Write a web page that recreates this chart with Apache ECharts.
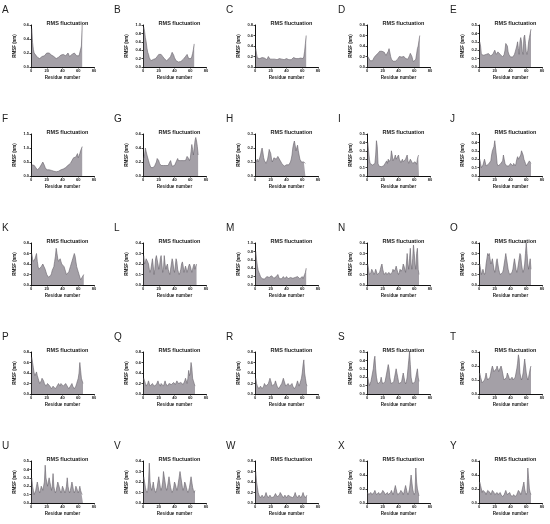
<!DOCTYPE html>
<html><head><meta charset="utf-8">
<script src="https://cdn.jsdelivr.net/npm/echarts@6/dist/echarts.min.js"></script>
<style>html,body{margin:0;padding:0;background:#fff}#c{width:550px;height:524px}</style>
</head><body><div id="c"></div>
<script>
const panelLetters = ["A","B","C","D","E","F","G","H","I","J","K","L","M","N","O","P","Q","R","S","T","U","V","W","X","Y"];
const xTicks = [0, 20, 40, 60, 80];
const yMaxes = [0.6,1.0,0.8,0.8,0.5, 1.5,0.6,0.3,0.5,0.5, 0.8,0.4,1.0,0.4,0.4, 0.8,0.8,0.8,0.5,0.3, 0.5,0.4,0.8,0.6,0.6];
const ySteps = [0.2,0.2,0.2,0.2,0.1, 0.5,0.2,0.1,0.1,0.1, 0.2,0.1,0.2,0.1,0.1, 0.2,0.2,0.2,0.1,0.1, 0.1,0.1,0.2,0.2,0.2];

const rmsfA = [0.55,0.35,0.25,0.2,0.18,0.17,0.15,0.14,0.12,0.13,0.12,0.13,0.14,0.15,0.14,0.15,0.16,0.17,0.18,0.2,0.21,0.22,0.2,0.19,0.18,0.17,0.16,0.18,0.15,0.14,0.13,0.12,0.1,0.12,0.14,0.15,0.16,0.17,0.15,0.16,0.18,0.2,0.17,0.16,0.15,0.18,0.2,0.19,0.15,0.14,0.16,0.18,0.17,0.16,0.2,0.22,0.18,0.16,0.17,0.15,0.16,0.17,0.18,0.3,0.6];
const rmsfB = [0.95,0.85,0.7,0.6,0.45,0.35,0.3,0.22,0.18,0.15,0.14,0.16,0.18,0.2,0.19,0.2,0.22,0.25,0.28,0.3,0.3,0.31,0.3,0.28,0.25,0.22,0.2,0.18,0.16,0.15,0.16,0.18,0.2,0.22,0.25,0.3,0.35,0.32,0.28,0.22,0.18,0.15,0.13,0.12,0.12,0.13,0.12,0.13,0.14,0.16,0.18,0.2,0.22,0.25,0.28,0.3,0.25,0.2,0.18,0.16,0.2,0.25,0.32,0.42,0.55];
const rmsfC = [0.35,0.25,0.17,0.15,0.15,0.16,0.15,0.17,0.18,0.2,0.19,0.17,0.16,0.15,0.14,0.16,0.2,0.18,0.15,0.16,0.17,0.15,0.14,0.13,0.15,0.14,0.13,0.14,0.15,0.17,0.16,0.15,0.14,0.15,0.16,0.15,0.14,0.13,0.15,0.16,0.17,0.15,0.14,0.16,0.15,0.14,0.15,0.17,0.18,0.16,0.15,0.16,0.17,0.18,0.16,0.15,0.16,0.17,0.15,0.14,0.16,0.2,0.3,0.45,0.6];
const rmsfD = [0.2,0.19,0.18,0.12,0.1,0.1,0.12,0.15,0.18,0.2,0.22,0.24,0.25,0.26,0.28,0.3,0.3,0.31,0.3,0.29,0.3,0.28,0.25,0.22,0.2,0.25,0.3,0.35,0.28,0.2,0.15,0.12,0.11,0.1,0.1,0.11,0.1,0.12,0.15,0.18,0.2,0.18,0.17,0.19,0.2,0.22,0.2,0.18,0.16,0.15,0.14,0.15,0.18,0.22,0.26,0.28,0.2,0.14,0.1,0.09,0.1,0.15,0.25,0.35,0.4,0.5,0.6];
const rmsfE = [0.3,0.25,0.15,0.14,0.13,0.14,0.15,0.14,0.15,0.16,0.17,0.16,0.15,0.14,0.13,0.14,0.15,0.16,0.18,0.2,0.18,0.15,0.16,0.18,0.17,0.16,0.15,0.14,0.13,0.12,0.12,0.15,0.2,0.28,0.3,0.25,0.18,0.15,0.13,0.12,0.12,0.13,0.12,0.13,0.15,0.18,0.2,0.25,0.3,0.22,0.15,0.3,0.35,0.3,0.18,0.15,0.35,0.38,0.28,0.18,0.15,0.2,0.3,0.35,0.4,0.45];
const rmsfF = [0.4,0.38,0.4,0.38,0.35,0.3,0.25,0.22,0.25,0.28,0.3,0.35,0.4,0.45,0.5,0.45,0.38,0.3,0.25,0.22,0.2,0.2,0.22,0.2,0.18,0.2,0.19,0.18,0.17,0.18,0.16,0.15,0.16,0.15,0.17,0.18,0.2,0.22,0.2,0.22,0.25,0.27,0.28,0.3,0.32,0.35,0.38,0.4,0.42,0.45,0.5,0.55,0.6,0.65,0.62,0.58,0.68,0.75,0.8,0.65,0.7,0.8,0.9,0.95,1.05];
const rmsfG = [0.25,0.3,0.4,0.35,0.3,0.28,0.22,0.18,0.15,0.12,0.12,0.13,0.12,0.14,0.15,0.17,0.2,0.25,0.27,0.22,0.18,0.16,0.15,0.14,0.15,0.15,0.14,0.16,0.15,0.14,0.13,0.15,0.18,0.2,0.22,0.18,0.14,0.12,0.13,0.15,0.17,0.2,0.22,0.25,0.22,0.2,0.21,0.22,0.2,0.21,0.22,0.24,0.23,0.22,0.25,0.28,0.3,0.25,0.22,0.25,0.35,0.45,0.38,0.3,0.4,0.5,0.55,0.5,0.42,0.3];
const rmsfH = [0.1,0.11,0.12,0.1,0.11,0.13,0.15,0.18,0.2,0.17,0.13,0.11,0.1,0.09,0.1,0.12,0.15,0.19,0.2,0.16,0.12,0.1,0.11,0.13,0.14,0.13,0.12,0.12,0.14,0.15,0.13,0.11,0.1,0.09,0.08,0.08,0.07,0.08,0.07,0.08,0.08,0.07,0.08,0.09,0.1,0.12,0.15,0.2,0.23,0.25,0.22,0.18,0.2,0.22,0.18,0.15,0.12,0.11,0.1,0.1,0.11,0.1,0.1,0.09];
const rmsfI = [0.4,0.3,0.2,0.15,0.14,0.13,0.13,0.14,0.13,0.15,0.25,0.42,0.35,0.15,0.12,0.1,0.1,0.11,0.1,0.12,0.12,0.13,0.15,0.14,0.18,0.15,0.2,0.17,0.15,0.2,0.3,0.25,0.18,0.2,0.22,0.25,0.2,0.18,0.22,0.25,0.2,0.18,0.16,0.18,0.2,0.17,0.16,0.18,0.2,0.22,0.25,0.18,0.15,0.16,0.2,0.22,0.18,0.15,0.16,0.15,0.17,0.15,0.14,0.2,0.24,0.25];
const rmsfJ = [0.2,0.15,0.1,0.12,0.13,0.15,0.2,0.18,0.12,0.1,0.12,0.14,0.15,0.16,0.18,0.25,0.3,0.28,0.35,0.42,0.4,0.25,0.15,0.12,0.13,0.12,0.14,0.12,0.13,0.18,0.25,0.2,0.15,0.14,0.12,0.1,0.11,0.12,0.13,0.15,0.14,0.13,0.12,0.15,0.14,0.12,0.15,0.2,0.23,0.2,0.18,0.22,0.25,0.3,0.32,0.25,0.2,0.18,0.15,0.12,0.13,0.15,0.14,0.18,0.2,0.15];
const rmsfK = [0.6,0.5,0.45,0.42,0.5,0.55,0.6,0.45,0.35,0.3,0.28,0.3,0.35,0.38,0.4,0.42,0.38,0.3,0.25,0.2,0.18,0.15,0.14,0.15,0.18,0.22,0.28,0.3,0.35,0.45,0.55,0.7,0.6,0.5,0.45,0.48,0.5,0.45,0.4,0.42,0.38,0.35,0.3,0.25,0.2,0.18,0.2,0.25,0.3,0.35,0.4,0.45,0.5,0.55,0.6,0.55,0.45,0.35,0.3,0.25,0.2,0.15,0.1,0.12,0.15,0.18,0.2];
const rmsfL = [0.28,0.2,0.22,0.25,0.24,0.22,0.2,0.15,0.12,0.15,0.2,0.25,0.18,0.1,0.15,0.25,0.28,0.27,0.2,0.15,0.18,0.25,0.28,0.2,0.12,0.15,0.28,0.2,0.15,0.18,0.2,0.15,0.12,0.1,0.15,0.2,0.25,0.22,0.15,0.12,0.18,0.25,0.22,0.15,0.12,0.1,0.12,0.15,0.2,0.22,0.18,0.12,0.15,0.18,0.15,0.12,0.15,0.18,0.2,0.18,0.15,0.12,0.15,0.18,0.2,0.15,0.18,0.2];
const rmsfM = [0.8,0.6,0.45,0.35,0.3,0.25,0.2,0.18,0.15,0.16,0.15,0.14,0.16,0.18,0.2,0.22,0.2,0.18,0.17,0.2,0.22,0.2,0.18,0.16,0.15,0.17,0.2,0.22,0.25,0.2,0.15,0.13,0.12,0.15,0.18,0.2,0.18,0.15,0.17,0.2,0.18,0.15,0.14,0.16,0.18,0.15,0.14,0.16,0.18,0.2,0.18,0.15,0.16,0.2,0.22,0.18,0.15,0.16,0.18,0.2,0.15,0.18,0.25,0.3,0.4];
const rmsfN = [0.2,0.15,0.1,0.1,0.12,0.15,0.14,0.12,0.1,0.12,0.15,0.13,0.1,0.09,0.1,0.12,0.15,0.18,0.2,0.15,0.12,0.1,0.1,0.12,0.1,0.09,0.1,0.12,0.1,0.09,0.1,0.12,0.15,0.13,0.12,0.15,0.18,0.15,0.12,0.1,0.12,0.15,0.13,0.12,0.15,0.2,0.18,0.15,0.12,0.2,0.3,0.2,0.15,0.25,0.35,0.2,0.15,0.25,0.38,0.3,0.2,0.15,0.3,0.35,0.15,0.1];
const rmsfO = [0.2,0.15,0.1,0.12,0.15,0.12,0.1,0.12,0.2,0.25,0.3,0.28,0.3,0.25,0.2,0.22,0.25,0.2,0.15,0.12,0.15,0.22,0.25,0.2,0.15,0.12,0.1,0.09,0.1,0.12,0.15,0.2,0.25,0.3,0.25,0.2,0.15,0.12,0.1,0.09,0.1,0.12,0.15,0.2,0.25,0.2,0.15,0.12,0.15,0.2,0.25,0.3,0.28,0.2,0.15,0.12,0.15,0.2,0.3,0.4,0.3,0.2,0.15,0.2,0.25,0.15];
const rmsfP = [0.7,0.6,0.5,0.4,0.35,0.38,0.42,0.35,0.3,0.25,0.2,0.22,0.25,0.3,0.28,0.25,0.2,0.18,0.15,0.18,0.2,0.22,0.2,0.15,0.12,0.1,0.12,0.15,0.14,0.12,0.1,0.12,0.15,0.18,0.2,0.18,0.15,0.2,0.22,0.18,0.15,0.12,0.15,0.2,0.18,0.15,0.12,0.1,0.12,0.15,0.18,0.2,0.15,0.12,0.1,0.12,0.15,0.2,0.25,0.3,0.4,0.6,0.45,0.3,0.25,0.2];
const rmsfQ = [0.3,0.25,0.2,0.15,0.18,0.2,0.25,0.2,0.15,0.12,0.15,0.2,0.18,0.15,0.12,0.15,0.18,0.2,0.25,0.2,0.18,0.15,0.2,0.22,0.18,0.15,0.2,0.25,0.2,0.18,0.15,0.18,0.2,0.22,0.2,0.18,0.15,0.2,0.22,0.2,0.18,0.2,0.25,0.22,0.2,0.18,0.2,0.22,0.25,0.2,0.18,0.2,0.25,0.3,0.25,0.2,0.3,0.45,0.35,0.4,0.6,0.5,0.3,0.25,0.2,0.15];
const rmsfR = [0.3,0.2,0.15,0.12,0.1,0.12,0.15,0.12,0.1,0.12,0.15,0.2,0.18,0.15,0.12,0.15,0.2,0.25,0.3,0.25,0.2,0.15,0.12,0.15,0.2,0.25,0.2,0.15,0.12,0.1,0.12,0.15,0.18,0.2,0.25,0.3,0.25,0.2,0.15,0.12,0.15,0.2,0.18,0.15,0.12,0.15,0.2,0.15,0.12,0.1,0.12,0.15,0.2,0.25,0.2,0.15,0.2,0.25,0.3,0.4,0.55,0.65,0.4,0.3,0.2,0.15];
const rmsfS = [0.2,0.15,0.1,0.12,0.15,0.2,0.25,0.3,0.4,0.45,0.3,0.2,0.15,0.12,0.1,0.12,0.15,0.2,0.15,0.12,0.1,0.12,0.15,0.2,0.25,0.3,0.35,0.3,0.2,0.15,0.12,0.1,0.12,0.15,0.2,0.25,0.3,0.28,0.2,0.15,0.12,0.1,0.12,0.15,0.2,0.25,0.2,0.15,0.12,0.15,0.2,0.3,0.4,0.5,0.35,0.2,0.15,0.12,0.1,0.12,0.15,0.2,0.25,0.3,0.2,0.15];
const rmsfT = [0.15,0.12,0.1,0.08,0.07,0.08,0.1,0.12,0.15,0.12,0.1,0.09,0.1,0.12,0.15,0.18,0.2,0.18,0.16,0.15,0.16,0.18,0.2,0.18,0.16,0.15,0.17,0.2,0.18,0.15,0.12,0.1,0.09,0.1,0.12,0.15,0.14,0.12,0.1,0.09,0.1,0.12,0.1,0.09,0.1,0.12,0.15,0.18,0.22,0.28,0.25,0.15,0.12,0.1,0.12,0.15,0.2,0.25,0.2,0.15,0.12,0.1,0.12,0.15,0.18,0.2];
const rmsfU = [0.3,0.2,0.15,0.1,0.12,0.15,0.2,0.25,0.2,0.15,0.12,0.15,0.2,0.18,0.15,0.2,0.25,0.45,0.3,0.25,0.2,0.25,0.3,0.25,0.2,0.15,0.2,0.35,0.2,0.15,0.12,0.15,0.2,0.25,0.22,0.2,0.15,0.12,0.15,0.2,0.18,0.15,0.12,0.15,0.2,0.3,0.2,0.15,0.12,0.15,0.2,0.25,0.2,0.15,0.12,0.15,0.2,0.18,0.15,0.12,0.15,0.2,0.15,0.12,0.1,0.12];
const rmsfV = [0.25,0.2,0.15,0.12,0.1,0.12,0.2,0.38,0.2,0.15,0.12,0.15,0.2,0.15,0.12,0.1,0.12,0.15,0.2,0.25,0.2,0.15,0.12,0.15,0.2,0.3,0.25,0.2,0.15,0.12,0.15,0.2,0.25,0.2,0.15,0.12,0.1,0.12,0.15,0.2,0.18,0.15,0.12,0.15,0.2,0.25,0.3,0.25,0.2,0.15,0.12,0.15,0.2,0.18,0.15,0.12,0.1,0.12,0.15,0.2,0.25,0.2,0.15,0.12,0.1,0.12];
const rmsfW = [0.6,0.4,0.3,0.2,0.15,0.12,0.1,0.12,0.15,0.12,0.1,0.12,0.15,0.2,0.15,0.12,0.1,0.12,0.15,0.12,0.1,0.09,0.1,0.12,0.15,0.18,0.15,0.12,0.1,0.12,0.15,0.2,0.18,0.15,0.12,0.1,0.12,0.15,0.12,0.1,0.12,0.15,0.18,0.15,0.12,0.1,0.09,0.1,0.12,0.15,0.2,0.15,0.12,0.1,0.12,0.15,0.12,0.1,0.12,0.15,0.2,0.15,0.12,0.1,0.12,0.15];
const rmsfX = [0.15,0.12,0.1,0.12,0.15,0.12,0.1,0.12,0.15,0.18,0.15,0.12,0.1,0.12,0.15,0.12,0.1,0.12,0.15,0.18,0.2,0.15,0.12,0.1,0.12,0.15,0.12,0.1,0.12,0.15,0.18,0.15,0.12,0.15,0.2,0.25,0.2,0.15,0.12,0.1,0.12,0.15,0.18,0.2,0.15,0.12,0.15,0.2,0.25,0.2,0.15,0.12,0.15,0.2,0.3,0.4,0.3,0.2,0.15,0.12,0.15,0.5,0.3,0.2,0.15,0.1];
const rmsfY = [0.3,0.25,0.2,0.15,0.18,0.2,0.18,0.15,0.12,0.15,0.18,0.2,0.18,0.15,0.12,0.15,0.18,0.2,0.15,0.12,0.1,0.12,0.15,0.12,0.1,0.12,0.15,0.12,0.1,0.09,0.1,0.12,0.15,0.18,0.15,0.12,0.1,0.12,0.15,0.12,0.1,0.09,0.1,0.12,0.1,0.09,0.1,0.12,0.15,0.18,0.2,0.15,0.12,0.15,0.2,0.25,0.3,0.2,0.15,0.12,0.15,0.5,0.35,0.2,0.15,0.12];

const allSeries = [rmsfA,rmsfB,rmsfC,rmsfD,rmsfE,rmsfF,rmsfG,rmsfH,rmsfI,rmsfJ,rmsfK,rmsfL,rmsfM,rmsfN,rmsfO,rmsfP,rmsfQ,rmsfR,rmsfS,rmsfT,rmsfU,rmsfV,rmsfW,rmsfX,rmsfY];

const chart = echarts.init(document.getElementById('c'), null, {renderer:'canvas'});
const FONT = 'Liberation Sans, Arial, sans-serif';
const grids=[], xAxes=[], yAxes=[], series=[], titles=[], graphics=[];
const colLeft = c => 31 + 112*c;
const rowTop = r => 25 + 109*r;
const PW = 63, PH = 42;
for (let i=0;i<25;i++){
  const r=Math.floor(i/5), c=i%5;
  const L=colLeft(c), T=rowTop(r);
  grids.push({left:L, top:T, width:PW, height:PH, containLabel:false});
  xAxes.push({gridIndex:i, type:'value', min:xTicks[0], max:xTicks[xTicks.length-1], interval:20,
    name:'Residue number', nameLocation:'middle', nameGap:8,
    nameTextStyle:{fontSize:4.5, fontWeight:'bold', fontFamily:FONT, color:'#222'},
    axisLine:{lineStyle:{color:'#111', width:1}},
    axisTick:{length:1.5, lineStyle:{color:'#111', width:0.8}},
    axisLabel:{fontSize:4, margin:2, color:'#222', fontFamily:FONT, fontWeight:'bold'},
    splitLine:{show:false}});
  yAxes.push({gridIndex:i, type:'value', min:0, max:yMaxes[i], interval:ySteps[i],
    name:'RMSF (nm)', nameLocation:'middle', nameGap:14, nameRotate:90,
    nameTextStyle:{fontSize:4.5, fontWeight:'bold', fontFamily:FONT, color:'#222'},
    axisLine:{show:true, lineStyle:{color:'#111', width:1}},
    axisTick:{show:true, length:1.5, lineStyle:{color:'#111', width:0.8}},
    axisLabel:{fontSize:4, margin:2, color:'#222', fontFamily:FONT, fontWeight:'bold',
      formatter: v => v.toFixed(1)},
    splitLine:{show:false}});
  series.push({type:'line', xAxisIndex:i, yAxisIndex:i, symbol:'none', smooth:false,
    data: allSeries[i].map((v,k)=>[k+1, v]),
    lineStyle:{color:'#66626a', width:0.6},
    areaStyle:{color:'#a4a0a7', opacity:1},
    silent:true, animation:false});
  titles.push({text:'RMS fluctuation', left:L+PW/2, top:T-10, textAlign:'center',
    textStyle:{fontSize:5.5, fontWeight:'bold', fontFamily:FONT, color:'#222'}});
  graphics.push({type:'text', left:L-29, top:T-20,
    style:{text:panelLetters[i], fontSize:10, fontFamily:FONT, fill:'#222'}});
}
chart.setOption({animation:false, backgroundColor:'#fff', title:titles, grid:grids, xAxis:xAxes, yAxis:yAxes, series:series, graphic:graphics});
</script></body></html>
